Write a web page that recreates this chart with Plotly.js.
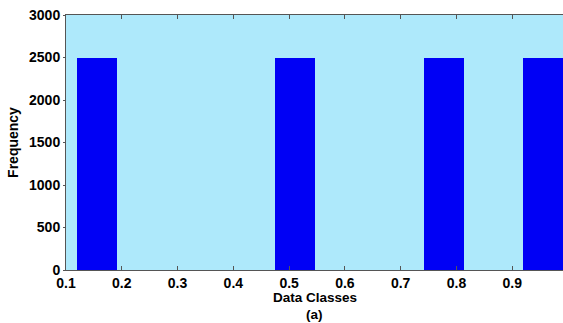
<!DOCTYPE html>
<html>
<head>
<meta charset="utf-8">
<script src="https://cdn.plot.ly/plotly-3.0.1.min.js"></script>
<style>html,body{margin:0;padding:0;background:#fff;}#chart{width:563px;height:323px;}</style>
</head>
<body>
<div id="chart"></div>
<script>
// Histogram bin centers (data classes) and frequencies
var binCenters = [0.1556, 0.2444, 0.3333, 0.4222, 0.5111, 0.6000, 0.6889, 0.7778, 0.8667, 0.9556];
var frequencies = [2500, 0, 0, 0, 2500, 0, 0, 2500, 0, 2500];
var xTickVals = [0.1, 0.2, 0.3, 0.4, 0.5, 0.6, 0.7, 0.8, 0.9, 1];
var xTickText = ['0.1','0.2','0.3','0.4','0.5','0.6','0.7','0.8','0.9','1'];
var yTickVals = [0, 500, 1000, 1500, 2000, 2500, 3000];
var xTitle = 'Data Classes';
var subLabel = '(a)';
var yTitle = 'Frequency';

var font = {family: 'Liberation Sans, Arial, sans-serif', size: 14, color: '#000', weight: 'bold'};
var smallFont = {family: 'Liberation Sans, Arial, sans-serif', size: 13.5, color: '#000', weight: 'bold'};

var trace = {
  type: 'bar',
  x: binCenters,
  y: frequencies,
  width: 0.0711,
  marker: {color: '#0000f5', line: {width: 0}},
  hoverinfo: 'none'
};

var layout = {
  width: 563,
  height: 323,
  margin: {l: 66, r: 0, t: 15, b: 53},
  paper_bgcolor: '#ffffff',
  plot_bgcolor: '#aee9fb',
  showlegend: false,
  bargap: 0,
  font: font,
  xaxis: {
    range: [0.1, 0.991],
    tickvals: xTickVals,
    ticktext: xTickText,
    ticks: 'inside',
    ticklen: 4,
    tickcolor: '#555',
    showline: true,
    linecolor: '#555',
    linewidth: 1,
    mirror: 'ticks',
    showgrid: false,
    zeroline: false,
    tickfont: font
  },
  yaxis: {
    range: [0, 3000],
    tickvals: yTickVals,
    ticks: 'outside',
    ticklen: 2,
    tickcolor: '#555',
    showline: true,
    linecolor: '#555',
    linewidth: 1,
    showgrid: false,
    zeroline: false,
    tickfont: font,
    title: {text: yTitle, font: font, standoff: 7}
  },
  annotations: [{
    text: xTitle, xref: 'paper', yref: 'paper', x: 0.5, y: -0.108,
    xanchor: 'center', yanchor: 'middle', showarrow: false, font: smallFont
  }, {
    text: subLabel, xref: 'paper', yref: 'paper', x: 0.5, y: -0.173,
    xanchor: 'center', yanchor: 'middle', showarrow: false, font: smallFont
  }]
};

Plotly.newPlot('chart', [trace], layout, {staticPlot: true, displayModeBar: false});
</script>
</body>
</html>
